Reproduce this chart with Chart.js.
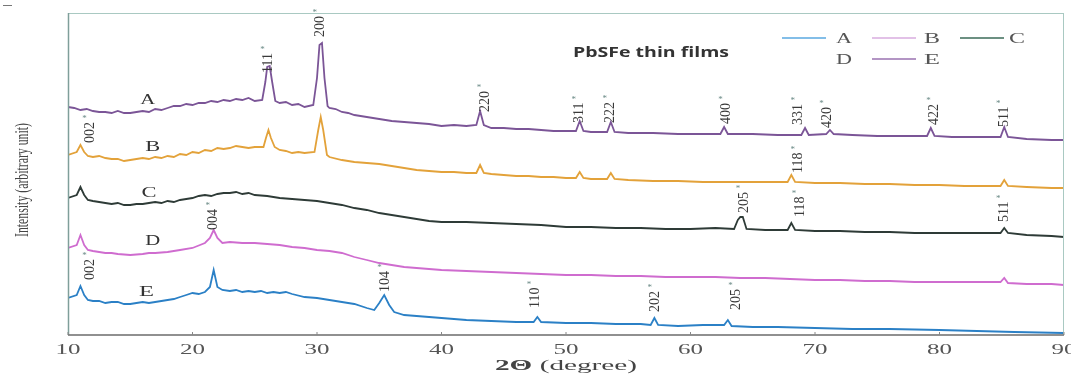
<!DOCTYPE html>
<html>
<head>
<meta charset="utf-8">
<script src="https://cdn.jsdelivr.net/npm/chart.js@4.4.1/dist/chart.umd.min.js"></script>
<style>
html,body{margin:0;padding:0;background:#fff;}
#wrap{width:1071px;height:374px;}
</style>
</head>
<body>
<div id="wrap"><canvas id="c" width="1071" height="374"></canvas></div>
<script>
// ---- data (2θ in degrees, intensity in arbitrary units, curves stacked with offsets) ----
const xTicks = [10, 20, 30, 40, 50, 60, 70, 80, 90];

const xA = [10,10.5,11,11.5,12,12.5,13,13.5,14,14.5,15,15.5,16,16.5,17,17.5,18,18.5,19,19.5,20,20.5,21,21.5,22,22.5,23,23.5,24,24.5,25,25.6,25.85,26.0,26.2,26.4,26.65,27,27.5,28,28.5,29,29.7,30.0,30.2,30.4,30.6,30.85,31,31.5,32,32.5,33,34,35,36,37,38,39,40,41,42,42.8,43.1,43.4,44,45,46,47,48,49,50,50.8,51.1,51.4,52,53.3,53.6,53.9,55,57,59,61,62.4,62.7,63.0,65,67,68.9,69.2,69.5,70.9,71.2,71.5,73,75,77,79.0,79.3,79.6,81,83,84.9,85.2,85.5,87,89,90];
const yA = [228,227,225,226,224,223,223,222,224,222,222,223,224,223,226,225,227,229,229,231,230,232,232,234,233,235,234,236,235,237,234,235,253,268,269,253,234,232,233,230,231,228,230,257,290,292,257,229,227,226,223,222,220,218,216,214,213,212,211,209,210,209,210,224,210,207,207,206,206,205,204,204,204,214,204,203,203,213,203,202,202,201,201,201,208,201,201,200,200,207,200,201,205,201,200,199,199,199,207,199,198,198,198,208,198,196,195,195];

const xB = [10,10.7,11.0,11.3,11.6,12,12.5,13,13.5,14,14.5,15,15.5,16,16.5,17,17.5,18,18.5,19,19.5,20,20.5,21,21.5,22,22.5,23,23.5,24,24.5,25,25.7,25.9,26.1,26.3,26.6,27,27.5,28,28.5,29,29.8,30.1,30.3,30.5,30.8,31,32,33,34,35,36,37,38,39,40,41,42,42.8,43.1,43.4,44,45,46,47,48,49,50,50.8,51.1,51.4,52,53.3,53.6,53.9,55,57,59,61,63,65,67,67.8,68.1,68.4,70,72,74,76,78,80,82,84,84.9,85.2,85.5,87,89,90];
const yB = [180,183,190,183,179,178,179,177,176,176,174,175,176,177,176,178,177,179,178,181,180,183,182,185,184,187,186,187,189,188,187,188,188,197,205,197,188,185,184,182,183,182,183,205,218,205,180,178,175,173,172,171,169,167,165,164,163,163,162,162,170,162,161,160,159,159,158,158,157,157,163,157,156,156,162,156,155,154,154,153,153,153,153,153,160,153,152,152,151,151,150,150,149,149,149,155,149,148,147,147];

const xC = [10,10.7,11.0,11.3,11.6,12,12.5,13,13.5,14,14.5,15,15.5,16,16.5,17,17.5,18,18.5,19,19.5,20,20.5,21,21.5,22,22.5,23,23.5,24,24.5,25,26,27,28,29,30,31,32,33,34,35,36,37,38,39,40,42,44,46,48,50,52,54,56,58,60,62,63.5,63.8,64.0,64.2,64.5,66,67.8,68.1,68.4,70,72,74,76,78,80,82,84.9,85.2,85.5,87,89,90];
const yC = [137,140,148,140,135,134,133,132,131,132,130,130,131,131,132,133,132,134,133,135,136,137,139,140,139,141,142,142,143,141,142,140,139,137,136,135,134,132,130,127,125,122,120,118,116,114,113,113,112,111,110,108,108,107,107,106,106,107,106,115,118,118,106,105,105,112,105,104,104,103,103,102,102,102,102,107,102,100,99,98];

const xD = [10,10.7,11.0,11.3,11.6,12,13,13.5,14,15,16,16.5,17,18,19,20,21,21.4,21.7,22.0,22.4,23,24,25,26,27,28,29,30,31,32,33,34,35,36,37,38,39,40,42,44,46,48,50,52,54,56,58,60,62,64,66,68,70,72,74,76,78,80,82,84.9,85.2,85.5,87,89,90];
const yD = [87,90,100,90,85,84,82,82,81,80,81,82,82,83,85,87,92,97,105,97,92,93,92,92,91,90,88,87,85,84,82,78,75,72,70,68,67,66,65,64,63,62,61,60,60,59,59,58,58,58,57,57,56,55,55,54,54,53,53,53,53,57,52,51,51,50];

const xE = [10,10.7,11.0,11.3,11.6,12,12.5,13,13.5,14,14.5,15,15.5,16,16.5,17,17.5,18,18.5,19,19.5,20,20.5,21,21.4,21.7,22.0,22.4,23,23.5,24,24.5,25,25.5,26,26.5,27,27.5,28,29,30,31,32,33,34,34.6,35.0,35.4,35.8,36.2,37,38,40,42,44,46,47.4,47.7,48.0,50,52,54,56,56.8,57.1,57.4,59,61,62.7,63.0,63.3,65,67,70,73,76,80,83,86,90];
const yE = [37,40,49,40,35,34,34,32,33,33,31,31,32,33,32,33,34,35,36,38,40,42,41,43,48,65,48,45,44,45,43,44,43,44,42,43,42,43,41,38,37,35,33,31,27,25,32,40,30,23,20,19,17,15,14,13,13,18,13,12,12,11,11,10,17,10,9,10,10,15,9,8,8,7,6,6,5,4,3,2];

// peak index labels (text, 2θ position, intensity at bottom of label)
const peakText = ["111","200","220","311","222","400","331","420","422","511","002","118","205","118","511","004","002","104","110","202","205"];
const peakPos  = [26.1,30.3,43.5,51.1,53.6,62.9,68.7,71.0,79.6,85.2,11.8,68.7,64.3,68.8,85.2,21.7,11.8,35.5,47.5,57.2,63.7];
const peakInt  = [262,298,223,212,212,211,210,207,210,208,192,162,122,118,113,105,55,43,27,23,25];

const seriesNames = ["A","B","C","D","E"];
const seriesLabelPos = [16.4,16.8,16.5,16.8,16.3];
const seriesLabelInt = [235,188,142,94,43];

const legendRow1 = ["A","B","C"];
const legendRow2 = ["D","E"];

const colors = {A:"#7b5597", B:"#e3a23a", C:"#2e3b37", D:"#cf6ccf", E:"#2b80c6"};

function pts(xs, ys){ return xs.map((x,i)=>({x:x, y:ys[i]})); }

const SERIF = '"Liberation Serif","DejaVu Serif",serif';

// draw text stretched/condensed to a target width, centred on (cx, cy)
function fitText(ctx, text, cx, cy, targetW, font, rot){
  ctx.save();
  ctx.font = font;
  const w = ctx.measureText(text).width;
  ctx.translate(cx, cy);
  if (rot) ctx.rotate(rot);
  ctx.scale(targetW / w, 1);
  ctx.textAlign = 'center'; ctx.textBaseline = 'middle';
  ctx.fillText(text, 0, 0);
  ctx.restore();
}

const decor = {
  id:'decor',
  afterDatasetsDraw(chart){
    const ctx = chart.ctx, xs = chart.scales.x, ys = chart.scales.y, a = chart.chartArea;
    ctx.save();
    // small stray mark top-left
    ctx.strokeStyle = "#777"; ctx.lineWidth = 1;
    ctx.beginPath(); ctx.moveTo(3, 5.5); ctx.lineTo(12, 5.5); ctx.stroke();
    // frame
    ctx.strokeStyle = "#a9c9c2";
    ctx.beginPath(); ctx.moveTo(a.left, a.top+0.5); ctx.lineTo(a.right, a.top+0.5); ctx.stroke();
    ctx.beginPath(); ctx.moveTo(a.right-0.5, a.top); ctx.lineTo(a.right-0.5, a.bottom); ctx.stroke();
    ctx.strokeStyle = "#7f9f9a"; ctx.lineWidth = 1.5;
    ctx.beginPath(); ctx.moveTo(a.left+0.5, a.top); ctx.lineTo(a.left+0.5, a.bottom); ctx.stroke();
    ctx.strokeStyle = "#6b6b6b"; ctx.lineWidth = 1.5;
    ctx.beginPath(); ctx.moveTo(a.left, a.bottom); ctx.lineTo(a.right, a.bottom); ctx.stroke();
    // tiny ticks + tick labels
    ctx.lineWidth = 1; ctx.strokeStyle = "#888";
    ctx.fillStyle = "#555";
    xTicks.forEach(t=>{
      const px = xs.getPixelForValue(t);
      ctx.beginPath(); ctx.moveTo(px, a.bottom); ctx.lineTo(px, a.bottom-3); ctx.stroke();
      fitText(ctx, String(t), px, 350, 25, '14px ' + SERIF, 0);
    });

    // peak labels
    ctx.fillStyle = "#3a3a3a";
    peakText.forEach((t,i)=>{
      const px = xs.getPixelForValue(peakPos[i]);
      const py = ys.getPixelForValue(peakInt[i]);
      ctx.save();
      ctx.translate(px, py);
      ctx.rotate(-Math.PI/2);
      ctx.font = '14px ' + SERIF;
      ctx.textAlign = 'left'; ctx.textBaseline = 'middle';
      ctx.fillText(t, 0, 0);
      const w = ctx.measureText(t).width;
      ctx.restore();
      ctx.save();
      ctx.font = '9px ' + SERIF;
      ctx.fillStyle = "#6a8a86";
      ctx.textAlign = 'center'; ctx.textBaseline = 'middle';
      ctx.fillText("*", px - 6, py - w - 3);
      ctx.restore();
    });

    // series letters
    ctx.fillStyle = "#333";
    seriesNames.forEach((n,i)=>{
      fitText(ctx, n, xs.getPixelForValue(seriesLabelPos[i]), ys.getPixelForValue(seriesLabelInt[i]), 15, '14px ' + SERIF, 0);
    });

    // title inside plot
    ctx.fillStyle = "#333";
    fitText(ctx, "PbSFe thin films", 651, 53, 156, 'bold 14px "Open Sans","Noto Sans",sans-serif', 0);

    // legend
    ctx.fillStyle = "#555";
    ctx.lineWidth = 1.5;
    const lx = [782, 872, 960];
    const lc = ["#5aa8e0", "#d9acdf", "#3b6b58"];
    const tx = [844, 932, 1017];
    legendRow1.forEach((n,i)=>{
      ctx.strokeStyle = lc[i];
      ctx.beginPath(); ctx.moveTo(lx[i], 38); ctx.lineTo(lx[i]+44, 38); ctx.stroke();
      fitText(ctx, n, tx[i], 39, 16, '15px ' + SERIF, 0);
    });
    fitText(ctx, legendRow2[0], 844, 60, 16, '15px ' + SERIF, 0);
    ctx.strokeStyle = "#9a72b0";
    ctx.beginPath(); ctx.moveTo(872, 59); ctx.lineTo(916, 59); ctx.stroke();
    fitText(ctx, legendRow2[1], 932, 60, 16, '15px ' + SERIF, 0);

    // y title (condensed)
    ctx.fillStyle = "#444";
    fitText(ctx, "Intensity (arbitrary unit)", 23, 180, 114, '19px ' + SERIF, -Math.PI/2);

    // x title (stretched)
    ctx.save();
    ctx.font = 'bold 14px ' + SERIF;
    const t1 = "2\u0398 ";
    const w1 = ctx.measureText(t1).width;
    ctx.font = '14px ' + SERIF;
    const t2 = "(degree)";
    const w2 = ctx.measureText(t2).width;
    const k = 142 / (w1 + w2);
    ctx.translate(566 - 71, 366);
    ctx.scale(k, 1);
    ctx.textAlign = 'left'; ctx.textBaseline = 'middle';
    ctx.font = 'bold 14px ' + SERIF;
    ctx.fillText(t1, 0, 0);
    ctx.font = '14px ' + SERIF;
    ctx.fillText(t2, w1, 0);
    ctx.restore();

    ctx.restore();
  }
};

const mk = (name, xs, ys) => ({
  label: name, data: pts(xs, ys), borderColor: colors[name], backgroundColor: colors[name],
  borderWidth: 1.8, pointRadius: 0, tension: 0, fill: false
});

new Chart(document.getElementById('c'), {
  type: 'line',
  data: { datasets: [ mk("A", xA, yA), mk("B", xB, yB), mk("C", xC, yC), mk("D", xD, yD), mk("E", xE, yE) ] },
  options: {
    responsive: false, animation: false,
    layout: { padding: { left: 68, right: 7, top: 13, bottom: 0 } },
    plugins: { legend: { display: false }, tooltip: { enabled: false }, title: { display: false } },
    scales: {
      x: {
        type: 'linear', min: 10, max: 90,
        afterFit(s){ s.height = 39; s.paddingLeft = 0; s.paddingRight = 0; },
        afterBuildTicks(s){ s.ticks = xTicks.map(v=>({value:v})); },
        grid: { display: false, drawTicks: false },
        border: { display: false },
        ticks: { display: false }
      },
      y: {
        display: false, min: 0, max: 322
      }
    }
  },
  plugins: [decor]
});
</script>
</body>
</html>
